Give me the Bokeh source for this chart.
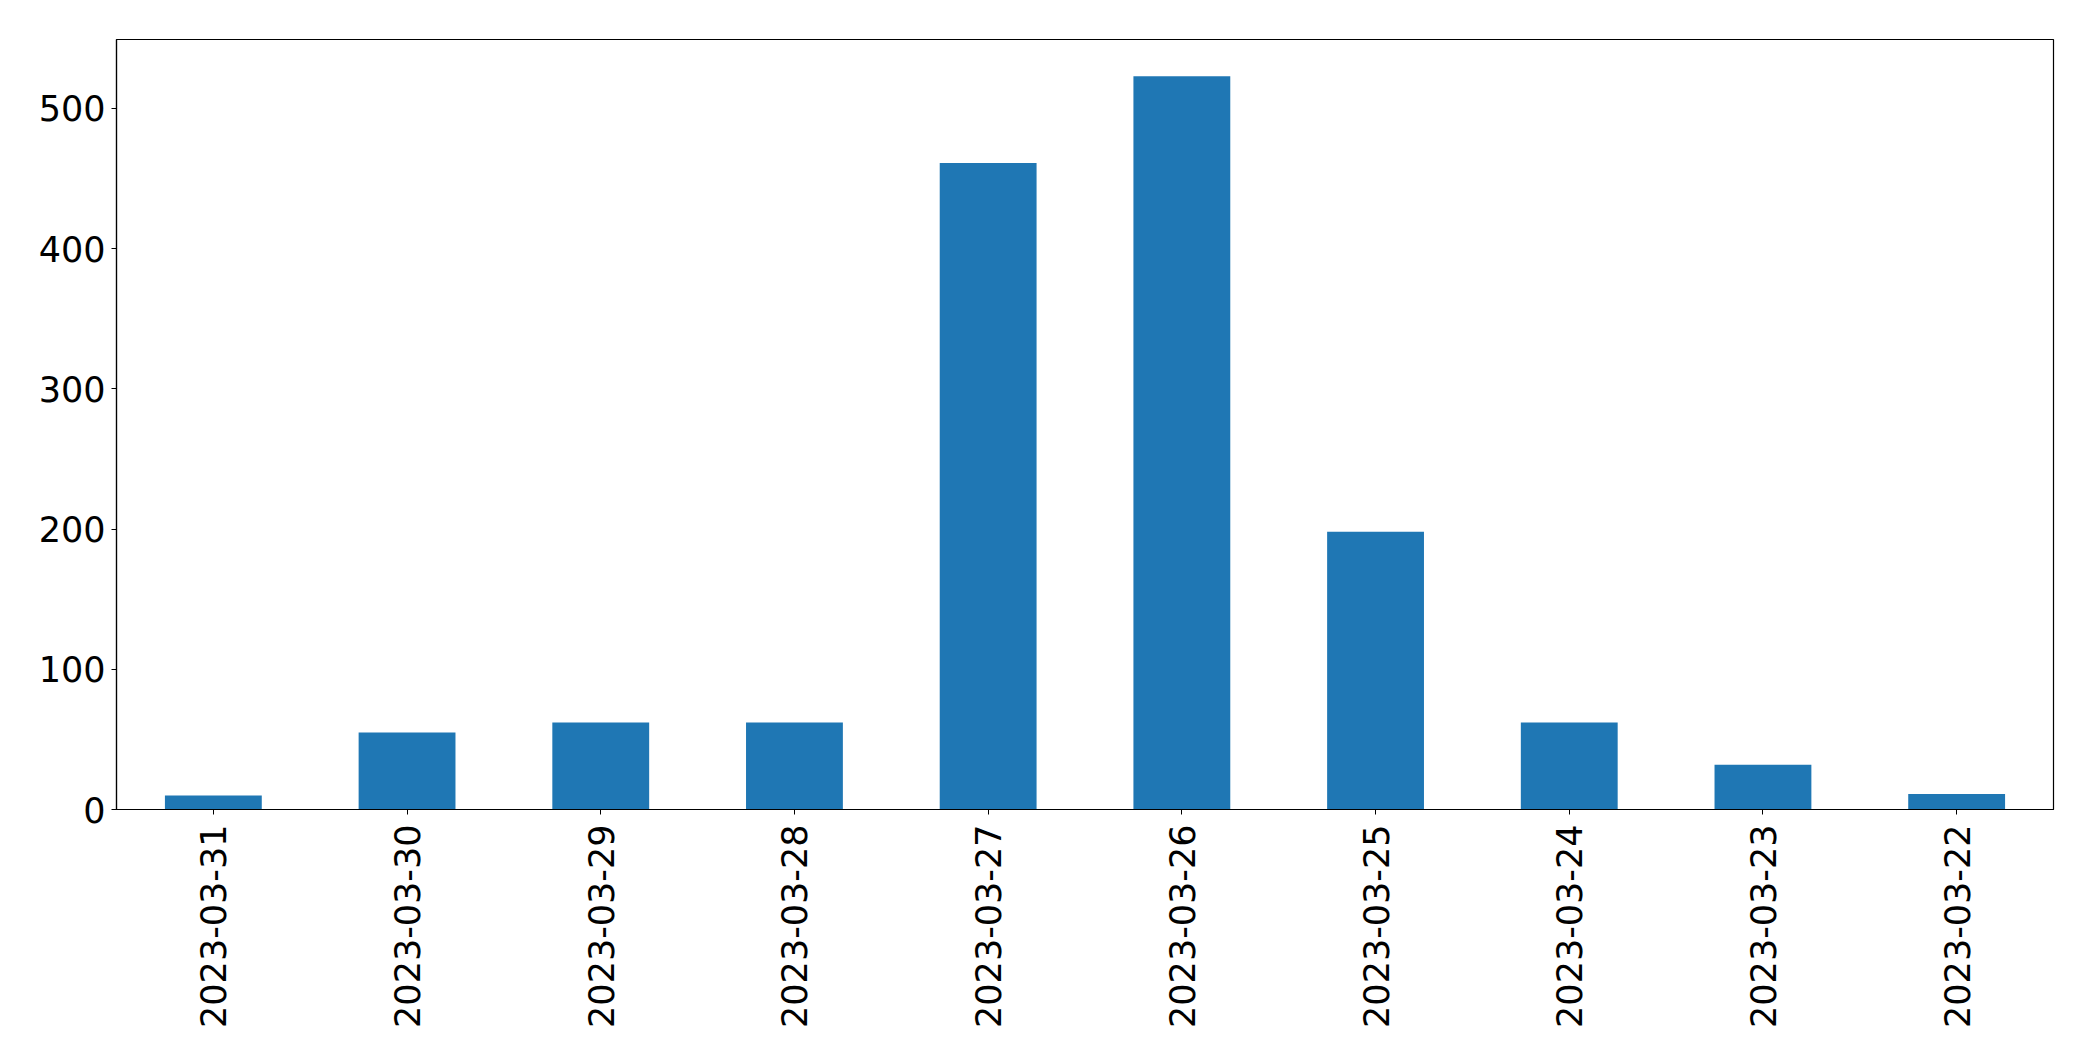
import math
from bokeh.plotting import figure
from bokeh.models import Range1d, FactorRange, FixedTicker, ColumnDataSource
from bokeh.embed import file_html
from bokeh.resources import INLINE

dates = ["2023-03-31", "2023-03-30", "2023-03-29", "2023-03-28", "2023-03-27",
         "2023-03-26", "2023-03-25", "2023-03-24", "2023-03-23", "2023-03-22"]
counts = [10, 55, 62, 62, 461, 523, 198, 62, 32, 11]
y_ticks = [0, 100, 200, 300, 400, 500]

src = ColumnDataSource(dict(dates=dates, counts=counts))

p = figure(width=2077, height=1045, output_backend="svg", toolbar_location=None,
           x_range=FactorRange(*dates, range_padding=0),
           y_range=Range1d(0, max(counts) * 1.05))
p.min_border_left = 116
p.min_border_right = 24
p.min_border_top = 39
p.min_border_bottom = 236

p.vbar(x="dates", top="counts", width=0.5, source=src,
       fill_color="#1f77b4", line_color=None)

p.xgrid.visible = False
p.ygrid.visible = False
p.outline_line_color = "black"
p.outline_line_width = 1.2
p.outline_line_alpha = 1

for ax in (p.xaxis[0], p.yaxis[0]):
    ax.axis_line_color = "black"
    ax.axis_line_width = 1.2
    ax.major_tick_line_color = "black"
    ax.major_tick_out = 5
    ax.major_tick_in = 0
    ax.minor_tick_line_color = None
    ax.major_label_text_font = "DejaVu Sans"
    ax.major_label_text_font_size = "35px"
    ax.major_label_text_color = "black"

p.yaxis.ticker = FixedTicker(ticks=y_ticks)
p.yaxis.major_label_standoff = 6
p.xaxis.major_label_orientation = math.pi / 2
p.xaxis.major_label_standoff = 10

open("out.html", "w").write(file_html(p, INLINE))
